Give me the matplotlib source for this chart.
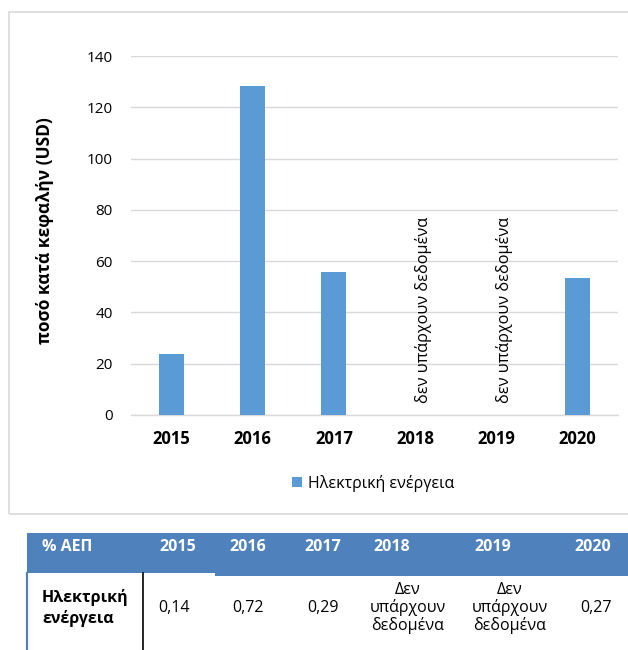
import numpy as np
import matplotlib
matplotlib.use("Agg")
import matplotlib.pyplot as plt
from matplotlib.patches import Rectangle, Patch
from matplotlib.lines import Line2D

plt.rcParams['font.family'] = ['Open Sans', 'DejaVu Sans']

# ---------------- data ----------------
years = ['2015', '2016', '2017', '2018', '2019', '2020']
values = [23.7, 128.4, 55.9, np.nan, np.nan, 53.3]
series_name = 'Ηλεκτρική ενέργεια'
no_data_text = 'δεν υπάρχουν δεδομένα'
y_label = 'ποσό κατά κεφαλήν (USD)'
y_ticks = [0, 20, 40, 60, 80, 100, 120, 140]

table_header = ['% ΑΕΠ', '2015', '2016', '2017', '2018', '2019', '2020']
table_row_label = 'Ηλεκτρική\nενέργεια'
table_values = ['0,14', '0,72', '0,29', 'Δεν\nυπάρχουν\nδεδομένα',
                'Δεν\nυπάρχουν\nδεδομένα', '0,27']

# ---------------- layout ----------------
W, H = 628, 650
fig = plt.figure(figsize=(W / 100, H / 100), dpi=100)


def fx(x):
    return x / W


def fy(y):
    return 1 - y / H


bar_color = '#5B9BD5'
grid_color = '#D9D9D9'
head_color = '#4F81BD'

# chart border
fig.patches.append(Rectangle((fx(9), fy(514)), fx(640) - fx(9), fy(12) - fy(514),
                             transform=fig.transFigure, fill=False,
                             edgecolor=grid_color, linewidth=1.2, zorder=0))

ax = fig.add_axes([fx(131), fy(415), (618 - 131) / W, (415 - 56) / H])
x = np.arange(len(years))
vals = np.array(values, dtype=float)
ax.bar(x, np.nan_to_num(vals), width=0.31, color=bar_color, zorder=3)
ax.set_xlim(-0.5, len(years) - 0.5)
ax.set_ylim(0, 140)
ax.set_yticks(y_ticks)
ax.set_xticks(x)
ax.set_xticklabels(years, fontweight='bold', fontsize=12)
ax.tick_params(axis='y', length=0, pad=13, labelsize=11, labelcolor='#000000')
ax.tick_params(axis='x', length=0, pad=11)
ax.grid(axis='y', color=grid_color, linewidth=1, zorder=0)
for s in ['left', 'right', 'top']:
    ax.spines[s].set_visible(False)
ax.spines['bottom'].set_color(grid_color)
ax.spines['bottom'].set_linewidth(1)

for i, v in enumerate(values):
    if np.isnan(v):
        ax.text(i + 0.1, 4.5, no_data_text, rotation=90, ha='center', va='bottom',
                fontsize=11.7, color='#000000', zorder=4)

fig.text(fx(45), fy(231), y_label, rotation=90, ha='center', va='center',
         fontweight='bold', fontsize=12.5)

leg_handle = Patch(facecolor=bar_color, edgecolor='none')
fig.legend([leg_handle], [series_name], loc='center',
           bbox_to_anchor=(fx(373), fy(483)), frameon=False, fontsize=11.5,
           handlelength=0.65, handleheight=0.65, handletextpad=0.35)

# ---------------- table ----------------
fig.patches.append(Rectangle((fx(27), fy(573)), fx(628) - fx(27), fy(533) - fy(573),
                             transform=fig.transFigure, facecolor=head_color,
                             edgecolor='none'))
fig.patches.append(Rectangle((fx(215), fy(576)), fx(628) - fx(215), fy(573) - fy(576),
                             transform=fig.transFigure, facecolor=head_color,
                             edgecolor='none'))
fig.lines.append(Line2D([fx(27), fx(27)], [fy(573), fy(650)], transform=fig.transFigure,
                        color=head_color, linewidth=1.6))
fig.lines.append(Line2D([fx(143), fx(143)], [fy(573), fy(650)], transform=fig.transFigure,
                        color='black', linewidth=1.2))

head_x = [42, 178, 248, 323, 392, 493, 593]
for j, (t, hx) in enumerate(zip(table_header, head_x)):
    fig.text(fx(hx), fy(547), t, ha='left' if j == 0 else 'center', va='center',
             color='white', fontweight='bold', fontsize=11.5)

fig.text(fx(42), fy(608), table_row_label, ha='left', va='center', fontweight='bold',
         fontsize=11.5, linespacing=1.25)
val_x = [174, 248, 323, 408, 510, 596]
for t, vx in zip(table_values, val_x):
    fig.text(fx(vx), fy(608), t, ha='center', va='center', fontsize=11.5,
             linespacing=1.08, multialignment='center')

fig.savefig('out.png', dpi=100)
